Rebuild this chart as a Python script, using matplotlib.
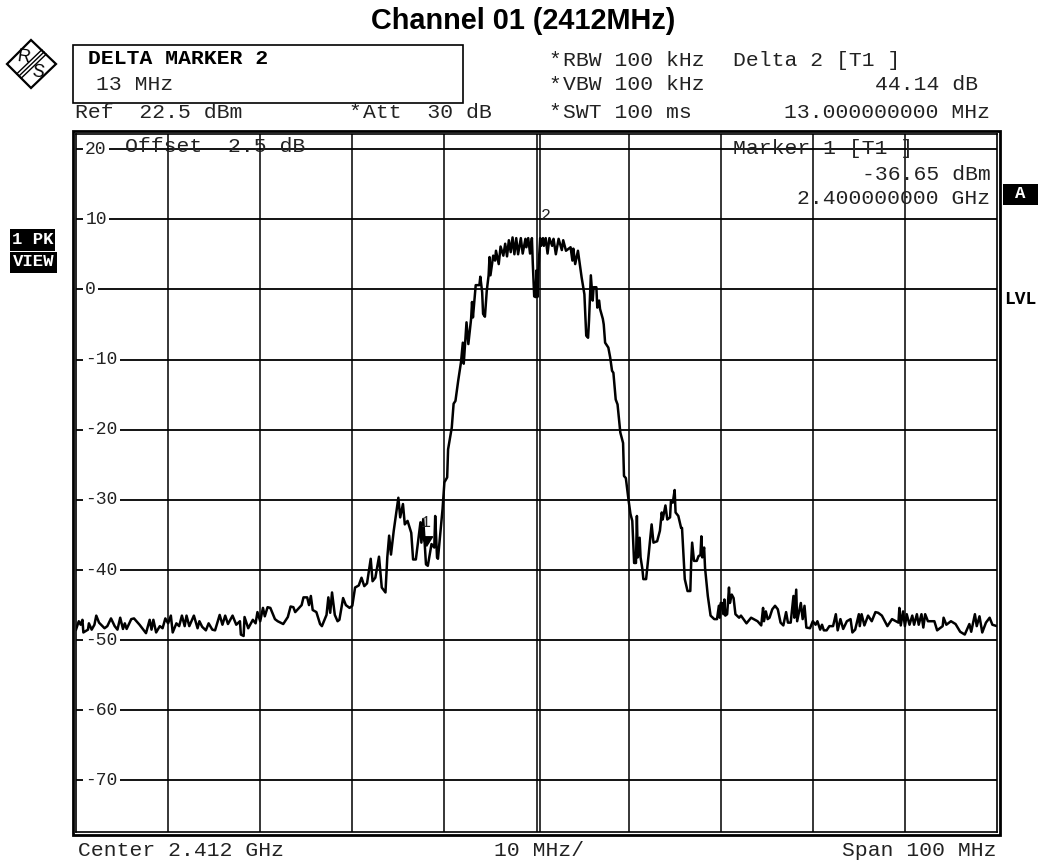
"""Spectrum analyzer screen - Channel 01 (2412MHz), delta marker view."""
import numpy as np
import matplotlib
matplotlib.use("Agg")
import matplotlib.pyplot as plt
from matplotlib.patches import Polygon, Rectangle

MONO = "Liberation Mono"
SANS = "Liberation Sans"

# trace: offset from center (MHz), level (dBm)
floor_left_f = [-50.0,-49.7,-49.5,-49.3,-49.2,-48.7,-48.6,-48.3,-48.0,-47.8,-47.5,-46.9,-46.6,-46.2,-45.8,-45.5,-45.2,-44.9,-44.7,-44.5,
                -44.0,-43.7,-43.1,-42.4,-42.0,-41.8,-41.6,-41.3,-40.9,-40.6,-40.3,-40.0,-39.7,-39.5,-39.1,-38.8,-38.5,-38.2,-38.0,-37.7,
                -37.2,-36.8,-36.6,-36.3,-35.9,-35.6,-35.2,-34.9,-34.4,-34.1,-33.8,-33.5,-33.0,-32.6,-32.2,-32.1,-31.8,-31.7,-31.3,-30.8,
                -30.5,-30.3,-30.0,-29.7,-29.5,-29.2,-28.9,-28.4,-28.1,-27.5,-27.0,-26.7,-26.4,-26.2,-25.5,-25.3,-24.9,-24.7,-24.5,-24.3,
                -23.9,-23.5,-23.3,-22.8,-22.6,-22.4,-22.2,-21.9,-21.6,-21.4,-21.0,-20.7,-20.3,-20.0]
floor_left_l = [-48.5,-47.3,-47.8,-47.1,-48.9,-48.5,-47.6,-48.5,-47.8,-46.5,-47.5,-48.3,-48.0,-46.9,-48.0,-48.5,-46.8,-48.4,-47.6,-48.4,
                -47.0,-46.9,-47.8,-49.0,-47.1,-48.5,-47.1,-48.9,-48.0,-48.3,-46.9,-47.6,-46.5,-48.9,-47.6,-48.0,-46.5,-48.0,-46.5,-48.0,
                -46.5,-48.3,-47.3,-48.1,-48.6,-47.6,-48.5,-48.6,-46.4,-47.8,-46.5,-47.7,-46.5,-47.8,-47.3,-49.2,-49.4,-46.7,-48.3,-47.1,
                -47.6,-46.0,-47.3,-45.4,-46.6,-45.3,-45.4,-47.0,-47.3,-47.7,-46.7,-45.2,-45.3,-46.0,-45.0,-43.9,-43.9,-45.0,-43.7,-45.7,
                -46.0,-47.7,-48.0,-46.4,-43.9,-46.1,-43.2,-46.4,-47.3,-47.1,-44.0,-45.0,-45.4,-45.1]
skirt_left_f = [-19.7,-19.3,-19.0,-18.7,-18.4,-18.0,-17.8,-17.5,-17.1,-16.8,-16.4,-16.2,-16.0,-15.8,-15.5,-15.0,-14.8,-14.5,-14.3,-14.0,
                -13.6,-13.4,-13.1,-12.6,-12.5,-12.3,-12.0,-11.8,-11.4,-11.1,-11.0,-10.8,-10.7,-10.2,-10.0,-9.7,-9.6,-9.2,-9.0,-8.8,
                -8.5,-8.2,-8.0,-7.9,-7.6,-7.4,-7.1,-7.0,-6.9,-6.6,-6.2]
skirt_left_l = [-42.5,-42.2,-41.1,-42.3,-41.9,-38.4,-41.6,-41.1,-38.1,-42.5,-43.2,-38.2,-35.1,-37.8,-34.4,-29.7,-32.5,-30.6,-33.5,-33.0,
                -34.7,-38.5,-38.5,-33.2,-36.1,-32.8,-39.2,-39.4,-36.3,-36.8,-32.3,-38.2,-38.4,-31.3,-27.5,-26.8,-22.8,-19.7,-16.3,-15.9,
                -13.0,-10.4,-7.6,-10.6,-4.7,-7.8,-4.2,-1.8,-4.0,0.6,0.6]
carrier_f = [-6.1,-5.9,-5.8,-5.6,-5.4,-5.2,-5.1,-5.0,-4.7,-4.5,-4.4,-4.1,-3.9,-3.6,-3.4,-3.2,-3.0,-2.8,-2.6,-2.4,-2.2,-2.0,-1.7,-1.5,-1.2,-1.1,
             -0.9,-0.7,-0.5,-0.4,-0.25,-0.1,0.0,0.1,0.2,0.4,0.5,0.7,0.8,1.0,1.2,1.4,1.7,1.85,2.1,2.4,2.75,2.9,3.2,3.7,3.9,4.0,4.2,4.5,4.7,4.9,
             5.2,5.4,5.6,5.7,5.9,6.1,6.2,6.5,6.6,6.8,6.9,7.2,7.3,7.45,7.8,8.0,8.2,8.35,8.6,8.8,9.1,9.4,9.5,9.7]
carrier_l = [1.8,-0.4,-3.5,-3.9,-0.2,2.0,4.6,2.0,4.8,4.1,5.5,3.6,6.1,4.8,6.5,4.7,7.0,5.3,7.4,5.0,7.3,5.0,7.3,5.1,7.2,6.0,
             7.3,5.1,7.3,3.6,-1.0,-1.1,2.7,-1.1,2.7,7.3,6.2,7.3,6.2,7.3,5.1,7.3,6.2,7.2,5.0,7.2,5.6,7.0,5.5,6.0,4.1,5.8,3.6,5.5,3.6,1.7,
             -0.7,-6.6,-6.9,-4.5,2.0,-1.6,0.3,0.3,-2.6,-1.6,-2.8,-4.2,-5.0,-7.6,-8.3,-9.7,-11.6,-11.9,-15.7,-16.4,-20.4,-21.9,-26.6,-26.9]
skirt_right_f = [10.0,10.2,10.4,10.6,10.8,10.9,11.0,11.2,11.3,11.5,11.6,11.9,12.2,12.5,12.7,13.1,13.4,13.6,13.7,14.0,14.2,14.5,14.6,14.8,15.0,
                 15.1,15.4,15.7,15.8,16.1,16.4,16.7,16.8,16.9,17.1,17.4,17.6,17.8,17.9,18.0,18.2,18.3,18.6,18.9,19.3,19.6]
skirt_right_l = [-30.1,-32.0,-33.0,-39.0,-39.0,-32.3,-38.2,-35.4,-38.2,-39.9,-41.3,-41.3,-37.5,-33.5,-36.1,-35.9,-34.4,-31.8,-32.8,-30.8,-32.8,-32.5,-30.1,-30.4,-28.6,
                 -31.8,-32.3,-34.0,-34.0,-41.3,-43.0,-43.0,-38.7,-36.1,-38.7,-38.7,-38.0,-37.9,-35.2,-38.2,-36.8,-39.7,-43.7,-46.5,-47.0,-47.0]
floor_right_f = [19.8,19.9,20.0,20.15,20.3,20.4,20.5,20.7,20.9,21.0,21.2,21.4,21.6,22.0,22.2,22.8,23.3,24.0,24.4,24.6,24.7,24.9,25.1,25.3,25.6,25.9,26.2,26.5,26.8,
                 27.1,27.3,27.6,27.9,28.0,28.2,28.3,28.7,28.9,29.1,29.3,29.7,30.0,30.3,30.5,30.8,31.0,31.2,31.5,31.8,32.2,32.5,32.7,33.0,33.3,33.7,34.1,34.3,34.6,35.0,
                 35.1,35.3,35.6,36.0,36.4,36.8,37.1,37.5,38.1,38.6,39.3,39.4,39.55,39.8,40.0,40.2,40.5,40.8,41.0,41.3,41.5,41.8,42.0,42.2,42.5,43.2,43.5,44.1,44.2,44.5,
                 45.0,45.5,46.0,46.5,47.0,47.2,47.6,47.8,48.1,48.4,48.8,49.2,49.5,50.0]
floor_right_l = [-45.1,-46.8,-44.7,-44.7,-46.3,-44.2,-46.5,-46.3,-42.5,-44.7,-43.5,-44.0,-46.3,-46.8,-46.5,-47.6,-46.8,-47.3,-47.9,-45.4,-47.3,-45.9,-47.0,-46.8,-45.6,-45.1,-45.6,-47.5,-47.9,
                 -46.0,-47.5,-47.5,-43.7,-46.8,-42.8,-47.3,-44.7,-47.0,-45.1,-48.2,-48.3,-47.3,-47.8,-47.3,-48.5,-47.8,-48.6,-48.6,-48.0,-48.0,-46.3,-48.6,-47.0,-48.4,-47.3,-47.0,-48.9,-48.5,-46.3,
                 -48.0,-46.3,-47.9,-46.5,-47.3,-46.0,-46.1,-46.5,-48.0,-47.0,-47.5,-45.4,-47.9,-45.9,-48.0,-46.3,-47.8,-46.5,-47.8,-46.3,-47.8,-46.3,-48.2,-46.3,-47.3,-47.3,-48.6,-48.0,-46.8,-47.8,
                 -47.3,-47.7,-48.8,-49.2,-47.7,-48.8,-46.3,-48.0,-46.6,-48.9,-47.5,-46.8,-47.8,-48.0]

level_ticks = [20, 10, 0, -10, -20, -30, -40, -50, -60, -70]
freq_ticks = [-40, -30, -20, -10, 0, 10, 20, 30, 40]
marker_f = [-12.0, 1.0]
marker_l = [-36.65, 7.5]

freq = np.array(floor_left_f + skirt_left_f + carrier_f + skirt_right_f + floor_right_f)
level = np.array(floor_left_l + skirt_left_l + carrier_l + skirt_right_l + floor_right_l)

W, H = 1039, 861
fig = plt.figure(figsize=(W/100, H/100), dpi=100, facecolor="white")

# plot area: inner frame 76..997 x 134..832 px
ax = fig.add_axes([76/W, 1-832/H, 921/W, 698/H])
ax.set_xlim(-50, 50)
ax.set_ylim(-77.34, 22.14)
ax.set_xticks([]); ax.set_yticks([])
for s in ax.spines.values():
    s.set_linewidth(1.2)

for f in freq_ticks:
    ax.axvline(f, color="k", lw=1.1, zorder=1)
ax.axvline(0.4, color="k", lw=1.1, zorder=1)  # delta line beside the center line
for l in level_ticks:
    ax.axhline(l, color="k", lw=1.3, zorder=1)
    ax.text(-49.0, l, str(l), family=MONO, fontsize=13, color="#222222",
            va="center", ha="left", zorder=2,
            bbox=dict(facecolor="white", edgecolor="none", pad=1.5))

ax.plot(freq, level, color="k", lw=1.8, zorder=3, solid_joinstyle="round")
# triangle with its tip on the marker value
ax.plot(marker_f[0], marker_l[0], marker=[(-1, 1.6), (1, 1.6), (0, 0)], color="k", ms=14, zorder=4)
ax.annotate("1", (marker_f[0], marker_l[0]), xytext=(0, 12), textcoords="offset points",
            family=MONO, fontsize=12, ha="center", va="bottom", color="#222222", zorder=4)
ax.annotate("2", (marker_f[1], marker_l[1]), xytext=(0, 10), textcoords="offset points",
            family=MONO, fontsize=12, ha="center", va="bottom", color="#222222", zorder=4)

# everything around the plot goes on a full-figure overlay in pixel coordinates
ov = fig.add_axes([0, 0, 1, 1], facecolor="none")
ov.set_xlim(0, W); ov.set_ylim(H, 0); ov.axis("off")

ov.add_patch(Rectangle((73, 131), 927, 704, fill=False, ec="k", lw=2))
ov.add_patch(Rectangle((73, 44.5), 390, 58, fill=False, ec="k", lw=1.2))

ov.text(523.5, 21, "Channel 01 (2412MHz)", family=SANS, weight="bold", fontsize=20.8, ha="center", va="center", color="k")

small = dict(family=MONO, fontsize=15.4, va="center", color="#222222")
ov.text(88, 58, "DELTA MARKER 2", family=MONO, weight="bold", fontsize=15.4, va="center", color="k")
ov.text(96, 85, "13 MHz", **small)
ov.text(75, 112, "Ref  22.5 dBm", **small)
ov.text(348, 112, "*", **small)
ov.text(363, 112, "Att  30 dB", **small)
for y, txt in [(60, "RBW 100 kHz"), (85, "VBW 100 kHz"), (112, "SWT 100 ms")]:
    ov.text(548, y, "*", **small)
    ov.text(563, y, txt, **small)
ov.text(733, 60, "Delta 2 [T1 ]", **small)
ov.text(978, 85, "44.14 dB", ha="right", **small)
ov.text(990, 112, "13.000000000 MHz", ha="right", **small)
ov.text(125, 146, "Offset  2.5 dB", **small)
ov.text(733, 148, "Marker 1 [T1 ]", **small)
ov.text(991, 174, "-36.65 dBm", ha="right", **small)
ov.text(990, 199, "2.400000000 GHz", ha="right", **small)
ov.text(78, 850, "Center 2.412 GHz", **small)
ov.text(539, 850, "10 MHz/", ha="center", **small)
ov.text(997, 850, "Span 100 MHz", ha="right", **small)

# black side labels
for x, y, w, h, txt in [(10, 229, 45, 22, "1 PK"), (10, 252, 47, 21, "VIEW"), (1003, 184, 35, 21, "A")]:
    ov.add_patch(Rectangle((x, y), w, h, fc="k", ec="none"))
    ov.text(x + w/2, y + h/2 - 1, txt, family=MONO, weight="bold", fontsize=12.5, color="white", ha="center", va="center")
ov.text(1020, 300, "LVL", family=MONO, weight="bold", fontsize=13, color="k", ha="center", va="center")

# R&S logo
ov.add_patch(Polygon([(7, 64), (31, 40), (56, 64), (31, 88)], closed=True, fill=False, ec="k", lw=1.6))
for d in (-2.2, 0, 2.2):
    ov.plot([19 + d, 44 + d], [76 + d, 52 + d], color="k", lw=1.0)
ov.text(24, 57, "R", family=SANS, fontsize=13, ha="center", va="center", rotation=-8)
ov.text(38, 72, "S", family=SANS, fontsize=13, ha="center", va="center", rotation=-8)

fig.savefig("out.png", dpi=100)
